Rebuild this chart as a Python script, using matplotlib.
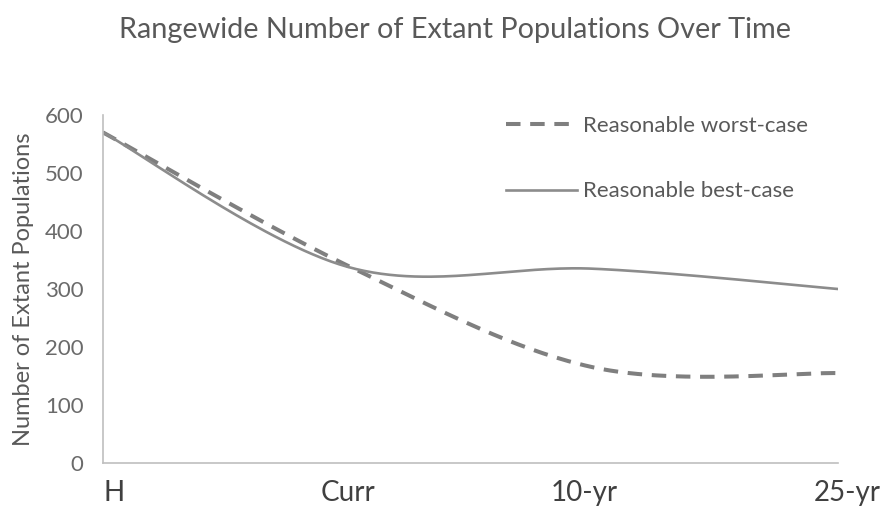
import matplotlib.pyplot as plt
import numpy as np

plt.rcParams['font.family'] = ['Lato', 'DejaVu Sans']

# %% data
categories = ['H', 'Curr', '10-yr', '25-yr']
worst_case = [570, 340, 165, 155]
best_case = [570, 338, 335, 300]


def smooth(ys, n=60):
    """Excel-style smoothed line (Catmull-Rom as Bezier segments)"""
    pts = np.column_stack([np.arange(len(ys)), ys]).astype(float)
    ext = np.vstack([pts[0], pts, pts[-1]])
    out = []
    t = np.linspace(0, 1, n)[:, None]
    for i in range(len(pts) - 1):
        p0, p3 = ext[i + 1], ext[i + 2]
        c1 = p0 + (ext[i + 2] - ext[i]) / 6
        c2 = p3 - (ext[i + 3] - ext[i + 1]) / 6
        seg = ((1 - t) ** 3) * p0 + 3 * ((1 - t) ** 2) * t * c1 + 3 * (1 - t) * t ** 2 * c2 + t ** 3 * p3
        out.append(seg if i == 0 else seg[1:])
    out = np.vstack(out)
    return out[:, 0], out[:, 1]


fig = plt.figure(figsize=(8.84, 5.08), dpi=100)
ax = fig.add_axes([0.1165, 0.0886, 0.8315, 0.685])

grey_text = '#595959'

x, y = smooth(worst_case)
ax.plot(x, y, color='#7f7f7f', lw=2.9, dashes=(3.6, 2.4), label='Reasonable worst-case')
x, y = smooth(best_case)
ax.plot(x, y, color='#8c8c8c', lw=1.9, label='Reasonable best-case')

ax.set_xlim(0, len(categories) - 1)
ax.set_ylim(0, 600)
ax.set_yticks(range(0, 601, 100))
ax.set_xticks(range(len(categories)))
ax.set_xticklabels([])
# the original's category labels are nudged off their ticks a bit
for i, (cat, dx) in enumerate(zip(categories, [8, 0, -6.5, 6.5])):
    ax.annotate(cat, (i, 0), xycoords=('data', 'axes fraction'), xytext=(dx, -12),
                textcoords='offset points', ha='center', va='top',
                fontsize=20, color='#404040', annotation_clip=False)
ax.tick_params(axis='y', labelsize=16, labelcolor='#6a6a6a', length=0, pad=14)
ax.tick_params(axis='x', length=0)

for s in ['top', 'right']:
    ax.spines[s].set_visible(False)
for s in ['left', 'bottom']:
    ax.spines[s].set_color('#bfbfbf')
    ax.spines[s].set_linewidth(1.2)

ax.set_ylabel('Number of Extant Populations', fontsize=17, color=grey_text, labelpad=8)
fig.text(0.515, 0.94, 'Rangewide Number of Extant Populations Over Time', fontsize=20.8,
         color=grey_text, ha='center', va='center')

ax.legend(loc='upper left', bbox_to_anchor=(0.521, 1.056), frameon=False,
          fontsize=16, labelcolor=grey_text, handlelength=3.2, handletextpad=0.25,
          labelspacing=2.06)

fig.savefig('out.png', dpi=100)
